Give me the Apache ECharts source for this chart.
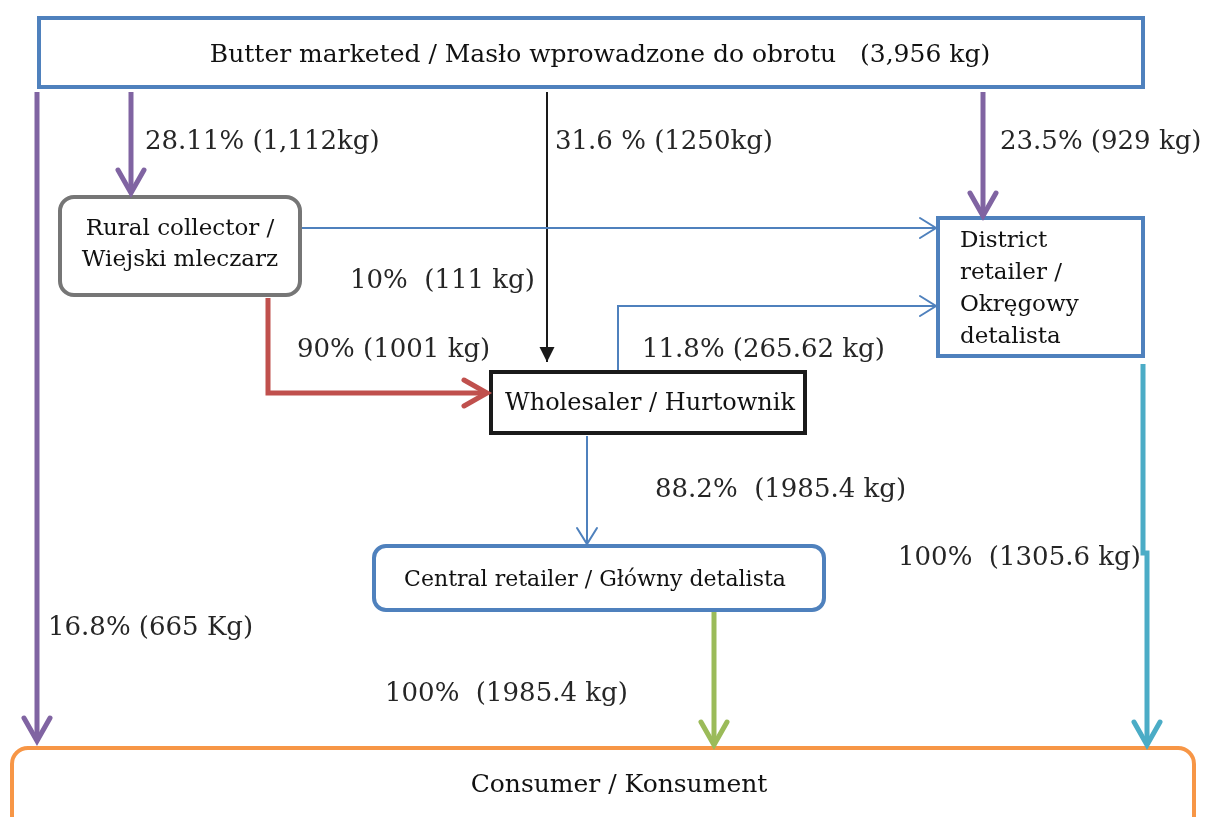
<!DOCTYPE html>
<html>
<head>
<meta charset="utf-8">
<script src="https://cdn.jsdelivr.net/npm/echarts@6/dist/echarts.min.js"></script>
<style>
  html, body { margin: 0; padding: 0; background: #fff; }
  #main { width: 1211px; height: 817px; }
</style>
</head>
<body>
<div id="main"></div>
<script>
// stages of the butter chain (labels only)
const stages = [
  'Butter marketed / Masło wprowadzone do obrotu   (3,956 kg)',
  'Rural collector /\nWiejski mleczarz',
  'District\nretailer /\nOkręgowy\ndetalista',
  'Wholesaler / Hurtownik',
  'Central retailer / Główny detalista',
  'Consumer / Konsument'
];

// flows between stages: share and quantity
const flowShare = ['16.8%', '28.11%', '31.6 %', '23.5%', '10%', '90%', '11.8%', '88.2%', '100%', '100%'];
const flowKg = ['(665 Kg)', '(1,112kg)', '(1250kg)', '(929 kg)', '(111 kg)', '(1001 kg)', '(265.62 kg)', '(1985.4 kg)', '(1985.4 kg)', '(1305.6 kg)'];
const flowGap = [' ', ' ', ' ', ' ', '  ', ' ', ' ', '  ', '  ', '  '];

// ---- layout (drawing space 0..1211 x 0..817) ----
const FONT = '"DejaVu Serif", "Liberation Serif", serif';
const BLUE = '#4f81bd', PURPLE = '#8064a2', RED = '#c0504d', GREEN = '#9bbb59',
      CYAN = '#4bacc6', ORANGE = '#f79646', GREY = '#767676', BLACK = '#1a1a1a';

const boxes = [
  { x0: 39, y0: 18, x1: 1143, y1: 87, r: 0, color: BLUE, tx: 600, ty: 55, align: 'center', size: 25 },
  { x0: 60, y0: 197, x1: 300, y1: 295, r: 14, color: GREY, tx: 180, ty: 245, align: 'center', size: 23, lh: 31 },
  { x0: 938, y0: 218, x1: 1143, y1: 356, r: 0, color: BLUE, tx: 960, ty: 289, align: 'left', size: 23, lh: 32 },
  { x0: 491, y0: 372, x1: 805, y1: 433, r: 0, color: BLACK, tx: 650, ty: 404, align: 'center', size: 24 },
  { x0: 374, y0: 546, x1: 824, y1: 610, r: 12, color: BLUE, tx: 595, ty: 580, align: 'center', size: 22 },
  { x0: 12, y0: 748, x1: 1194, y1: 850, r: 16, color: ORANGE, tx: 619, ty: 785, align: 'center', size: 25 }
];

const flowPaths = [
  { pts: [[37, 92], [37, 741]], color: PURPLE, w: 5, head: 'chevron', lx: 48, ly: 628 },
  { pts: [[131, 92], [131, 193]], color: PURPLE, w: 5, head: 'chevron', lx: 145, ly: 142 },
  { pts: [[547, 92], [547, 362]], color: BLACK, w: 2, head: 'triangle', lx: 555, ly: 142 },
  { pts: [[983, 92], [983, 216]], color: PURPLE, w: 5, head: 'chevron', lx: 1000, ly: 142 },
  { pts: [[302, 228], [936, 228]], color: BLUE, w: 2, head: 'thin', lx: 350, ly: 281 },
  { pts: [[268, 298], [268, 393], [487, 393]], color: RED, w: 5, head: 'chevron', lx: 297, ly: 350 },
  { pts: [[618, 370], [618, 306], [936, 306]], color: BLUE, w: 2, head: 'thin', lx: 642, ly: 350 },
  { pts: [[587, 436], [587, 544]], color: BLUE, w: 2, head: 'thin', lx: 655, ly: 490 },
  { pts: [[714, 612], [714, 745]], color: GREEN, w: 5, head: 'chevron', lx: 385, ly: 694 },
  { pts: [[1143, 364], [1143, 553], [1147, 553], [1147, 745]], color: CYAN, w: 5, head: 'chevron', lx: 898, ly: 558 }
];

function arrowHead(a, b, kind, color, w) {
  const dx = b[0] - a[0], dy = b[1] - a[1];
  const len = Math.sqrt(dx * dx + dy * dy) || 1;
  const ux = dx / len, uy = dy / len, nx = -uy, ny = ux;
  if (kind === 'triangle') {
    const back = 15, half = 7.5;
    return {
      type: 'polygon',
      shape: { points: [b, [b[0] - ux * back + nx * half, b[1] - uy * back + ny * half], [b[0] - ux * back - nx * half, b[1] - uy * back - ny * half]] },
      style: { fill: color }
    };
  }
  const back = kind === 'thin' ? 16 : 23, half = kind === 'thin' ? 10 : 13;
  return {
    type: 'polyline',
    shape: { points: [[b[0] - ux * back + nx * half, b[1] - uy * back + ny * half], b, [b[0] - ux * back - nx * half, b[1] - uy * back - ny * half]] },
    style: { stroke: color, lineWidth: w, fill: null, lineCap: 'round', lineJoin: 'miter' }
  };
}

const chart = echarts.init(document.getElementById('main'));

const option = {
  backgroundColor: '#ffffff',
  animation: false,
  grid: { left: 0, right: 0, top: 0, bottom: 0 },
  xAxis: { type: 'value', min: 0, max: 1211, show: false },
  yAxis: { type: 'value', min: 0, max: 817, inverse: true, show: false },
  series: [
    {
      // stage boxes
      type: 'custom',
      z: 2,
      data: stages.map((s, i) => [i]),
      renderItem: (params, api) => {
        const b = boxes[params.dataIndex];
        const p0 = api.coord([b.x0, b.y0]);
        const p1 = api.coord([b.x1, b.y1]);
        const t = api.coord([b.tx, b.ty]);
        return {
          type: 'group',
          children: [
            {
              type: 'rect',
              shape: { x: p0[0], y: p0[1], width: p1[0] - p0[0], height: p1[1] - p0[1], r: b.r },
              style: { fill: '#ffffff', stroke: b.color, lineWidth: 4 }
            },
            {
              type: 'text',
              style: {
                text: stages[params.dataIndex],
                x: t[0], y: t[1],
                align: b.align, verticalAlign: 'middle',
                font: b.size + 'px ' + FONT,
                lineHeight: b.lh || b.size,
                fill: '#111111'
              }
            }
          ]
        };
      }
    },
    {
      // flow arrows with their share labels
      type: 'custom',
      z: 3,
      data: flowShare.map((s, i) => [i]),
      renderItem: (params, api) => {
        const i = params.dataIndex;
        const f = flowPaths[i];
        const pts = f.pts.map(p => api.coord(p));
        const lp = api.coord([f.lx, f.ly]);
        return {
          type: 'group',
          children: [
            {
              type: 'polyline',
              shape: { points: pts },
              style: { stroke: f.color, lineWidth: f.w, fill: null, lineJoin: 'miter' }
            },
            arrowHead(pts[pts.length - 2], pts[pts.length - 1], f.head, f.color, f.w),
            {
              type: 'text',
              style: {
                text: flowShare[i] + flowGap[i] + flowKg[i],
                x: lp[0], y: lp[1],
                align: 'left', verticalAlign: 'middle',
                font: '26px ' + FONT,
                fill: '#262626'
              }
            }
          ]
        };
      }
    }
  ]
};

chart.setOption(option);
</script>
</body>
</html>
